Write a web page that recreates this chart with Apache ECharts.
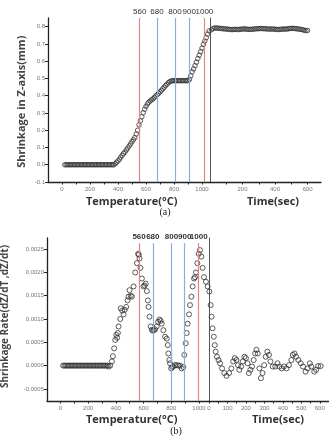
<!DOCTYPE html>
<html><head><meta charset="utf-8">
<script src="https://cdn.jsdelivr.net/npm/echarts@6/dist/echarts.min.js"></script>
<style>html,body{margin:0;padding:0;background:#fff}#c{width:329px;height:440px}</style>
</head><body><div id="c"></div>
<script>
// ---------- Panel (a): shrinkage in Z-axis (mm) ----------
const aTempX = [20,30,40,50,60,70,80,90,100,110,120,130,140,150,160,170,180,190,200,210,220,230,240,250,260,270,280,290,300,310,320,330,340,350,360,370,
  380,390,400,410,420,430,440,450,460,470,480,490,500,510,520,530,540,550,560,570,580,590,600,610,620,630,640,650,660,670,680,690,700,710,720,730,740,750,760,770,780,790,
  800,810,820,830,840,850,860,870,880,890,900,
  910,920,930,940,950,960,970,980,990,1000,1010,1020,1030,1040,1050];
const aTempY = [0,0,0,0,0,0,0,0,0,0,0,0,0,0,0,0,0,0,0,0,0,0,0,0,0,0,0,0,0,0,0,0,0,0,0,0,
  0.006,0.014,0.022,0.032,0.044,0.055,0.065,0.074,0.086,0.097,0.109,0.121,0.133,0.145,0.157,0.178,0.200,0.231,0.255,0.278,0.301,0.322,0.338,0.352,0.362,0.370,0.376,0.382,0.390,0.398,0.406,0.414,0.422,0.431,0.440,0.449,0.459,0.467,0.475,0.481,0.485,0.487,
  0.487,0.487,0.487,0.487,0.487,0.487,0.487,0.487,0.487,0.487,0.487,
  0.494,0.515,0.538,0.555,0.574,0.594,0.615,0.635,0.655,0.676,0.697,0.717,0.736,0.757,0.775];
const aTimeX = [10,20,30,40,50,60,70,80,90,100,110,120,130,140,150,160,170,180,190,200,210,220,230,240,250,260,270,280,290,300,
  310,320,330,340,350,360,370,380,390,400,410,420,430,440,450,460,470,480,490,500,510,520,530,540,550,560,570,580,590,600];
const aTimeY = [0.782,0.790,0.792,0.792,0.791,0.790,0.789,0.788,0.787,0.786,0.785,0.784,0.783,0.783,0.784,0.784,0.783,0.784,0.785,0.786,
  0.787,0.786,0.785,0.784,0.784,0.785,0.786,0.787,0.788,0.788,0.789,0.789,0.788,0.788,0.787,0.786,0.786,0.786,0.786,0.785,
  0.784,0.783,0.784,0.785,0.786,0.786,0.786,0.787,0.789,0.790,0.790,0.789,0.788,0.787,0.785,0.784,0.782,0.779,0.777,0.778];
const aLinePos = [555, 678, 807, 909, 1017];
const aYTicks = [-0.1,0.0,0.1,0.2,0.3,0.4,0.5,0.6,0.7,0.8];
const aTempLabels = [0,200,400,600,800,1000];
const aTempTicks = [0,100,200,300,400,500,600,700,800,900,1000];
const aTimeLabels = [200,400,600];
const aTimeTicks = [100,200,300,400,500,600];

// ---------- Panel (b): shrinkage rate ----------
const bTempX = [20,30,40,50,60,70,80,90,100,110,120,130,140,150,160,170,180,190,200,210,220,230,240,250,260,270,280,290,300,310,320,330,340,
  348,360,372,379,388,396,403,410,415,420,432,436,446,456,465,475,485,492,499,508,516,528,540,552,561,566,571,578,588,600,
  608,616,624,631,636,643,652,660,667,675,683,695,705,715,723,731,743,755,767,775,779,786,791,799,807,815,827,839,851,863,
  875,887,894,904,911,918,928,935,945,954,964,971,978,988,998,1007,1017,1026,1036,1050,1062];
const bTempY = [0,0,0,0,0,0,0,0,0,0,0,0,0,0,0,0,0,0,0,0,0,0,0,0,0,0,0,0,0,0,0,0,0,
  -0.00002,0,0.00009,0.0002,0.00037,0.00055,0.00066,0.0006,0.0007,0.00084,
  0.001,0.00123,0.00118,0.0011,0.0012,0.00126,0.0014,0.00148,0.00162,0.0015,
  0.00148,0.0017,0.002,0.0022,0.0024,0.00238,0.0023,0.0021,0.00187,0.0017,
  0.00172,0.00176,0.0016,0.0014,0.00126,0.00105,0.00084,0.00077,0.00075,0.00076,
  0.00078,0.00084,0.00094,0.00099,0.00096,0.0009,0.00076,0.00062,0.00058,0.00044,
  0.00026,0.00012,0.00005,-0.00006,-0.00003,-0.00002,0.00001,0.00001,0,0,
  -0.00006,-0.00003,0.00023,0.00048,0.0007,0.0009,0.0011,0.0013,0.00148,0.0017,
  0.00187,0.0019,0.002,0.0022,0.0024,0.00248,0.00234,0.0021,0.0019,0.0018,0.0017];
const bTimeX = [2,9,14,19,26,31,36,43,52,60,71,83,95,109,121,131,140,149,157,164,174,183,192,200,209,216,224,233,242,250,
  257,264,273,281,290,299,307,316,325,333,345,359,371,381,394,406,420,433,446,454,463,472,484,497,509,523,535,546,554,570,580,591,605];
const bTimeY = [0.00159,0.0013,0.00105,0.0008,0.00062,0.00044,0.0003,0.00019,0.00012,0.00005,
  -0.00006,-0.00016,-0.00022,-0.00016,-0.00006,0.00009,0.00016,0.00012,0.00001,-0.00009,
  -0.00002,0.00009,0.00019,0.00016,0.00005,-0.00016,-0.00009,-0.00002,0.00012,0.00026,
  0.00034,0.00026,-0.00006,-0.00027,-0.00016,0.00001,0.00019,0.0003,0.00023,0.00009,
  -0.00002,-0.00002,0.00005,-0.00002,-0.00006,-0.00002,-0.00006,0.00001,0.00012,0.00023,
  0.00026,0.00019,0.00012,0.00005,-0.00002,-0.00013,-0.00006,0.00005,-0.00002,-0.00013,
  -0.00009,-0.00001,-0.00001];
const bLinePos = [568, 667, 801, 897, 998];
const bYTicks = [-0.0005,0,0.0005,0.001,0.0015,0.002,0.0025];
const bTempLabels = [0,200,400,600,800,1000];
const bTempTicks = [0,100,200,300,400,500,600,700,800,900,1000];
const bTimeLabels = [0,100,200,300,400,500,600];
const bTimeTicks = [0,50,100,150,200,250,300,350,400,450,500,550,600,650];

const lineNames = ['560','680','800','900','1000'];
const lineColors = ['#e08585','#8badde','#8badde','#8badde','#e08585'];

const zip = (xs, ys) => xs.map((x, i) => [x, ys[i]]);
const AX = '#222';
const LBL = '#777';

function xAx(grid, min, max, labels, ticks) {
  return { type:'value', gridIndex:grid, min, max, splitLine:{show:false},
    axisLine:{show:true, onZero:false, lineStyle:{color:AX, width:1.3}},
    axisTick:{show:true, length:2.5, customValues:ticks, lineStyle:{color:AX}},
    axisLabel:{customValues:labels, fontSize:6, color:LBL, margin:4, fontFamily:'Liberation Sans', formatter:v => String(v)} };
}
function yAx(grid, min, max, labels, fmt) {
  return { type:'value', gridIndex:grid, min, max, splitLine:{show:false},
    axisLine:{show:true, onZero:false, lineStyle:{color:AX, width:1.3}},
    axisTick:{show:true, length:3, customValues:labels, lineStyle:{color:AX}},
    axisLabel:{customValues:labels, fontSize:6, color:LBL, margin:3, fontFamily:'Liberation Sans', formatter:fmt} };
}
function yBoundary(grid, min, max) {
  return { type:'value', gridIndex:grid, min, max, splitLine:{show:false},
    axisLine:{show:true, onZero:false, lineStyle:{color:'#555', width:1}},
    axisTick:{show:false}, axisLabel:{show:false} };
}
function marks(pos, yb, yt, fontSize, weight) {
  return { silent:true, symbol:['none','none'], animation:false,
    label:{show:true, position:'end', formatter:p => p.name, fontSize, color:'#333', fontWeight:weight, distance:2, fontFamily:'Liberation Sans'},
    data: pos.map((x, i) => {
      const ls = {color:lineColors[i], width:1.2, type:'solid', opacity:1};
      return [
        {name:lineNames[i], coord:[x, yb], lineStyle:ls},
        {name:lineNames[i], coord:[x, yt], lineStyle:ls}
      ];
    }) };
}
const sym = (size) => ({ type:'scatter', symbol:'circle', symbolSize:size,
  itemStyle:{color:'rgba(255,255,255,0)', borderColor:'#333', borderWidth:1}, animation:false, silent:true });

const aYmin = -0.1, aYmax = 0.85, bYmin = -0.00076, bYmax = 0.00274;
const option = {
  backgroundColor:'#fff',
  animation:false,
  grid:[
    {left:48, top:18, width:162, height:164},
    {left:210, top:18, width:111, height:164},
    {left:47, top:238, width:162, height:163},
    {left:209, top:238, width:126, height:163}
  ],
  xAxis:[
    xAx(0, -100, 1057, aTempLabels, aTempTicks),
    xAx(1, 0, 683, aTimeLabels, aTimeTicks),
    xAx(2, -96, 1072, bTempLabels, bTempTicks),
    xAx(3, 0, 650, bTimeLabels, bTimeTicks)
  ],
  yAxis:[
    yAx(0, aYmin, aYmax, aYTicks, v => v.toFixed(1)),
    yBoundary(1, aYmin, aYmax),
    yAx(2, bYmin, bYmax, bYTicks, v => v.toFixed(4)),
    yBoundary(3, bYmin, bYmax)
  ],
  series:[
    Object.assign(sym(4.5), {xAxisIndex:0, yAxisIndex:0, data:zip(aTempX, aTempY), markLine:marks(aLinePos, aYmin, aYmax, 8, 'normal')}),
    Object.assign(sym(4.5), {xAxisIndex:1, yAxisIndex:1, data:zip(aTimeX, aTimeY)}),
    Object.assign(sym(5), {xAxisIndex:2, yAxisIndex:2, data:zip(bTempX, bTempY), markLine:marks(bLinePos, bYmin, 0.00263, 8, 'bold')}),
    Object.assign(sym(5), {xAxisIndex:3, yAxisIndex:3, data:zip(bTimeX, bTimeY)})
  ],
  graphic:[
    {type:'text', x:21.7, y:101.7, rotation:Math.PI/2, style:{text:'Shrinkage in Z-axis(mm)', font:'bold 11px "Open Sans"', fill:'#444', align:'center', verticalAlign:'middle'}},
    {type:'text', x:131.7, y:201.7, style:{text:'Temperature(°C)', font:'bold 11px "Open Sans"', fill:'#333', align:'center', verticalAlign:'middle'}},
    {type:'text', x:273, y:201.7, style:{text:'Time(sec)', font:'bold 11px "Open Sans"', fill:'#333', align:'center', verticalAlign:'middle'}},
    {type:'text', x:165, y:212.5, style:{text:'(a)', font:'10px "Liberation Serif"', fill:'#222', align:'center', verticalAlign:'middle'}},
    {type:'text', x:5, y:316.5, rotation:Math.PI/2, style:{text:'Shrinkage Rate(dZ/dT ,dZ/dt)', font:'bold 10px "Open Sans"', fill:'#444', align:'center', verticalAlign:'middle'}},
    {type:'text', x:131.7, y:420, style:{text:'Temperature(°C)', font:'bold 11px "Open Sans"', fill:'#333', align:'center', verticalAlign:'middle'}},
    {type:'text', x:278, y:420, style:{text:'Time(sec)', font:'bold 11px "Open Sans"', fill:'#333', align:'center', verticalAlign:'middle'}},
    {type:'text', x:176, y:431.7, style:{text:'(b)', font:'10px "Liberation Serif"', fill:'#222', align:'center', verticalAlign:'middle'}}
  ]
};
const chart = echarts.init(document.getElementById('c'), null, {renderer:'canvas'});
chart.setOption(option);
</script>
</body></html>
